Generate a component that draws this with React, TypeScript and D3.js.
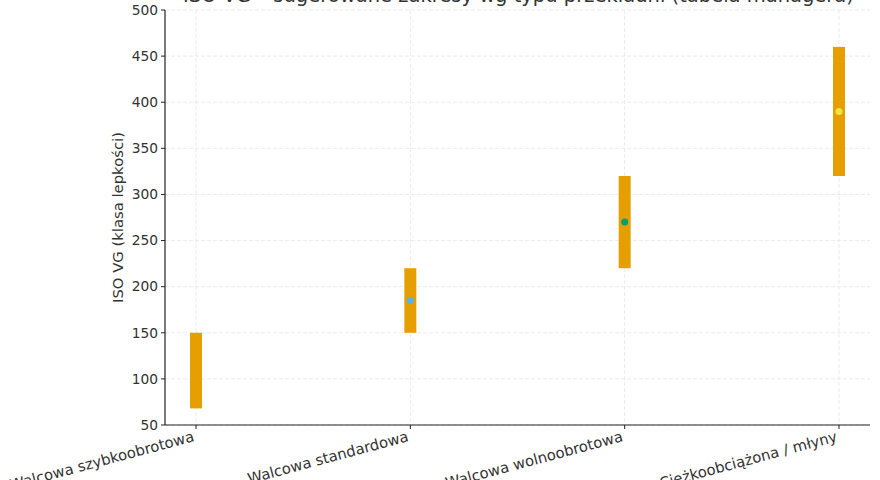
import React from "react";
import * as d3 from "d3";

const categories = [
  "Walcowa szybkoobrotowa",
  "Walcowa standardowa",
  "Walcowa wolnoobrotowa",
  "Ciężkoobciążona / młyny",
];
const lowValues = [68, 150, 220, 320];
const highValues = [150, 220, 320, 460];
const typicalValues = [109, 185, 270, 390];
const pointColors = ["#E69F00", "#56B4E9", "#009E73", "#F0E442"];
const yTicks = [50, 100, 150, 200, 250, 300, 350, 400, 450, 500];
const title = "ISO VG – sugerowane zakresy wg typu przekładni (tabela managera)";
const yLabel = "ISO VG (klasa lepkości)";

const W = 880;
const H = 480;
const left = 165;
const right = 870;
const top = 10;
const bottom = 425;

export default function App() {
  const x = d3
    .scalePoint<string>()
    .domain(categories)
    .range([196, 839]);
  const y = d3.scaleLinear().domain([50, 500]).range([bottom, top]);
  const barW = 12;
  const font = "DejaVu Sans, sans-serif";

  return (
    <svg
      width={W}
      height={H}
      style={{ position: "absolute", left: 0, top: 0, background: "#fff" }}
      fontFamily={font}
    >
      {/* grid */}
      {yTicks.map((t) => (
        <line
          key={"gy" + t}
          x1={left}
          x2={right}
          y1={y(t)}
          y2={y(t)}
          stroke="#e6e6e6"
          strokeWidth={0.8}
          strokeDasharray="4,2"
        />
      ))}
      {categories.map((c) => (
        <line
          key={"gx" + c}
          x1={x(c)}
          x2={x(c)}
          y1={top}
          y2={bottom}
          stroke="#e6e6e6"
          strokeWidth={0.8}
          strokeDasharray="4,2"
        />
      ))}
      {/* bars */}
      {categories.map((c, i) => (
        <rect
          key={"b" + c}
          x={(x(c) as number) - barW / 2}
          y={y(highValues[i])}
          width={barW}
          height={y(lowValues[i]) - y(highValues[i])}
          fill="#E69F00"
        />
      ))}
      {categories.map((c, i) => (
        <circle
          key={"p" + c}
          cx={x(c)}
          cy={y(typicalValues[i])}
          r={3.5}
          fill={pointColors[i]}
        />
      ))}
      {/* axes */}
      <line x1={left} x2={left} y1={top} y2={bottom} stroke="#222" strokeWidth={1.2} />
      <line x1={left} x2={right} y1={bottom} y2={bottom} stroke="#222" strokeWidth={1.2} />
      {yTicks.map((t) => (
        <g key={"ty" + t}>
          <line x1={left - 4} x2={left} y1={y(t)} y2={y(t)} stroke="#222" strokeWidth={1} />
          <text
            x={left - 7}
            y={y(t)}
            dy="0.35em"
            textAnchor="end"
            fontSize={13.8}
            fill="#333"
          >
            {t}
          </text>
        </g>
      ))}
      {categories.map((c) => (
        <g key={"tx" + c}>
          <line x1={x(c)} x2={x(c)} y1={bottom} y2={bottom + 4} stroke="#222" strokeWidth={1} />
          <text
            transform={`translate(${(x(c) as number) - 1},${bottom + 16}) rotate(-15)`}
            textAnchor="end"
            fontSize={14.8}
            fill="#333"
          >
            {c}
          </text>
        </g>
      ))}
      <text
        transform={`translate(123,${(top + bottom) / 2}) rotate(-90)`}
        textAnchor="middle"
        fontSize={14.8}
        fill="#333"
      >
        {yLabel}
      </text>
      <text x={(left + right) / 2 + 1} y={2} textAnchor="middle" fontSize={19.5} fill="#333">
        {title}
      </text>
    </svg>
  );
}
